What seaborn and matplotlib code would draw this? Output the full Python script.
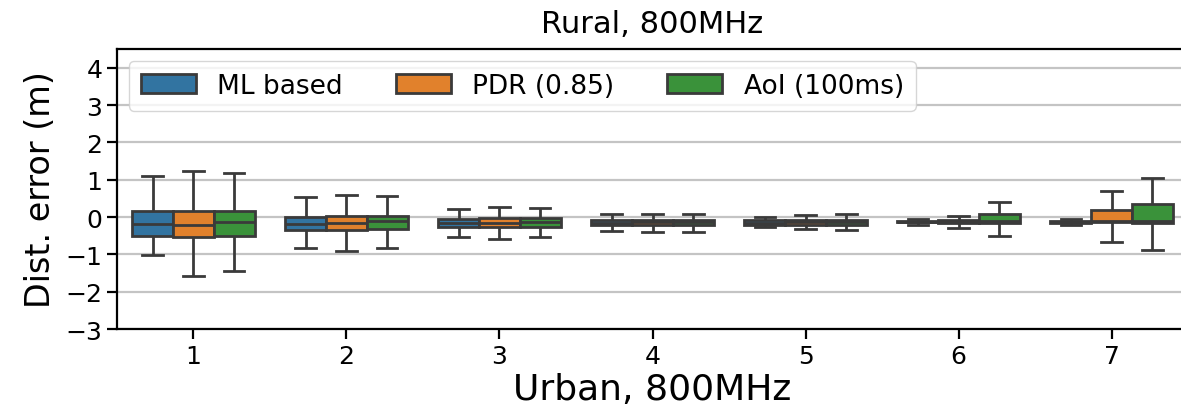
import matplotlib
matplotlib.use("Agg")
import matplotlib.pyplot as plt
import pandas as pd
import seaborn as sns

# x categories and legend names
groups = ["1", "2", "3", "4", "5", "6", "7"]
methods = ["ML based", "PDR (0.85)", "AoI (100ms)"]

# per group: (whisker low, q1, median, q3, whisker high)
ml_based = [
    (-1.03, -0.50, -0.19, 0.15, 1.10),
    (-0.84, -0.35, -0.19, 0.01, 0.53),
    (-0.53, -0.28, -0.15, -0.06, 0.21),
    (-0.37, -0.22, -0.15, -0.08, 0.07),
    (-0.28, -0.20, -0.15, -0.09, -0.01),
    (-0.21, -0.14, -0.12, -0.10, -0.05),
    (-0.22, -0.16, -0.13, -0.11, -0.06),
]
pdr = [
    (-1.57, -0.54, -0.20, 0.17, 1.23),
    (-0.91, -0.35, -0.16, 0.03, 0.60),
    (-0.59, -0.26, -0.15, -0.03, 0.27),
    (-0.40, -0.22, -0.14, -0.08, 0.09),
    (-0.31, -0.20, -0.14, -0.08, 0.05),
    (-0.30, -0.15, -0.12, -0.09, 0.04),
    (-0.67, -0.13, -0.10, 0.20, 0.71),
]
aoi = [
    (-1.44, -0.50, -0.13, 0.17, 1.17),
    (-0.84, -0.32, -0.10, 0.04, 0.56),
    (-0.53, -0.26, -0.12, -0.02, 0.25),
    (-0.39, -0.22, -0.14, -0.08, 0.07),
    (-0.35, -0.20, -0.13, -0.07, 0.07),
    (-0.50, -0.15, -0.10, 0.09, 0.40),
    (-0.88, -0.15, -0.10, 0.35, 1.05),
]
yticks = [-3, -2, -1, 0, 1, 2, 3, 4]


def build_frame() -> pd.DataFrame:
    rows = []
    for name, series in zip(methods, [ml_based, pdr, aoi]):
        for g, stats in zip(groups, series):
            for v in stats:
                rows.append({"group": g, "method": name, "err": v})
    return pd.DataFrame(rows)


def main():
    df = build_frame()
    plt.rcParams["font.family"] = ["DejaVu Sans"]

    fig = plt.figure(figsize=(11.81, 4.10), dpi=100)
    ax = fig.add_axes([0.099, 0.195, 0.907, 0.683])

    sns.boxplot(
        data=df, x="group", y="err", hue="method", order=groups,
        hue_order=methods, whis=(0, 100), showfliers=False,
        linewidth=2.0, linecolor="#3a3a3a", ax=ax,
    )

    ax.set_ylim(-3, 4.5)
    ax.set_xlim(-0.5, 6.5)
    ax.set_yticks(yticks)
    ax.yaxis.grid(True, color="#c4c4c4", linewidth=1.6)
    ax.set_axisbelow(True)
    for side in ["top", "left", "bottom", "right"]:
        ax.spines[side].set_linewidth(1.6)
        ax.spines[side].set_color("black")
    ax.tick_params(axis="both", labelsize=18, width=1.6, length=7)

    ax.set_title("Rural, 800MHz", fontsize=22, pad=12)
    ax.set_xlabel("Urban, 800MHz", fontsize=26, labelpad=3)
    ax.set_ylabel("Dist. error (m)", fontsize=24, labelpad=6)

    ax.legend(loc="upper left", ncol=3, fontsize=19, title=None,
              handlelength=2.1, columnspacing=2.0, framealpha=0.8,
              borderaxespad=0.45, borderpad=0.45)

    fig.savefig("out.png", dpi=100)
    plt.close(fig)


if __name__ == "__main__":
    main()
